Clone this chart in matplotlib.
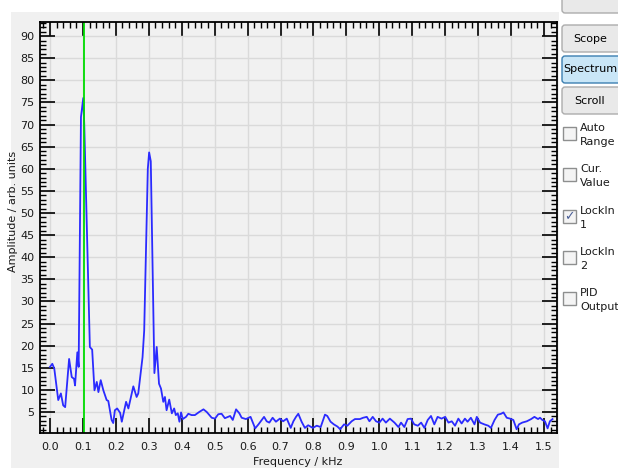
import matplotlib
matplotlib.use('Agg')
import matplotlib.pyplot as plt
from matplotlib.ticker import MultipleLocator, FormatStrFormatter
from matplotlib.patches import Rectangle, FancyBboxPatch

# spectrum (kHz, arb. units)
freq = [0.000, 0.007, 0.013, 0.025, 0.033, 0.040, 0.046, 0.058, 0.066, 0.073,
        0.076, 0.083, 0.087, 0.094, 0.101, 0.104, 0.121, 0.128, 0.135, 0.142,
        0.147, 0.154, 0.162, 0.172, 0.177, 0.187, 0.192, 0.197, 0.204, 0.213,
        0.218, 0.231, 0.238, 0.253, 0.263, 0.268, 0.281, 0.286, 0.297, 0.301,
        0.306, 0.317, 0.324, 0.331, 0.337, 0.344, 0.349, 0.354, 0.362, 0.370,
        0.377, 0.382, 0.388, 0.393, 0.398, 0.403, 0.413, 0.420, 0.430, 0.440,
        0.453, 0.466, 0.476, 0.491, 0.501, 0.511, 0.521, 0.531, 0.547, 0.555,
        0.565, 0.575, 0.582, 0.595, 0.609, 0.623, 0.633, 0.650, 0.658, 0.666,
        0.676, 0.686, 0.698, 0.708, 0.719, 0.731, 0.739, 0.747, 0.754, 0.764,
        0.774, 0.784, 0.798, 0.810, 0.822, 0.835, 0.842, 0.852, 0.862, 0.873,
        0.881, 0.893, 0.903, 0.916, 0.926, 0.941, 0.951, 0.962, 0.970, 0.980,
        0.990, 1.000, 1.010, 1.020, 1.032, 1.046, 1.058, 1.066, 1.076, 1.086,
        1.096, 1.106, 1.117, 1.127, 1.137, 1.147, 1.157, 1.167, 1.177, 1.189,
        1.200, 1.210, 1.220, 1.230, 1.240, 1.250, 1.260, 1.268, 1.278, 1.289,
        1.296, 1.306, 1.319, 1.331, 1.339, 1.350, 1.360, 1.370, 1.377, 1.387,
        1.397, 1.407, 1.417, 1.424, 1.434, 1.448, 1.461, 1.471, 1.482, 1.488,
        1.495, 1.503, 1.511, 1.518, 1.526]
amp = [15.2, 15.9, 14.8, 7.7, 9.2, 6.5, 6.1, 17.0, 12.9, 12.5,
       11.0, 18.5, 15.2, 71.7, 76.0, 70.0, 19.7, 19.1, 9.9, 11.8,
       9.5, 12.2, 9.9, 7.7, 7.5, 3.2, 2.5, 5.4, 5.8, 4.8,
       2.8, 7.3, 5.8, 10.8, 8.4, 9.2, 17.4, 23.4, 60.0, 63.7,
       61.7, 13.8, 19.7, 11.4, 10.3, 7.3, 8.4, 5.4, 7.8, 4.7,
       5.8, 4.3, 4.7, 2.8, 4.9, 3.4, 3.9, 4.6, 4.3, 4.3,
       5.0, 5.6, 5.0, 3.7, 3.5, 4.5, 4.6, 3.6, 4.1, 3.2,
       5.6, 4.7, 3.7, 3.4, 3.9, 1.3, 2.2, 3.9, 2.9, 2.6,
       3.7, 2.8, 3.5, 2.9, 3.5, 1.4, 2.9, 3.9, 4.6, 2.8,
       1.4, 2.0, 1.4, 1.9, 1.6, 4.4, 4.1, 2.8, 2.2, 1.7,
       1.1, 2.2, 1.9, 2.9, 3.4, 3.4, 3.7, 3.9, 2.9, 3.9,
       2.9, 2.6, 3.5, 2.6, 3.5, 2.6, 1.6, 2.6, 1.6, 3.4,
       3.5, 2.2, 1.9, 2.6, 1.4, 3.2, 4.1, 2.2, 3.9, 3.5,
       3.9, 2.6, 2.9, 1.9, 3.5, 2.4, 3.5, 2.8, 3.7, 2.2,
       3.9, 2.6, 2.2, 1.9, 1.4, 3.2, 4.4, 4.6, 4.9, 3.7,
       3.5, 3.2, 1.1, 2.2, 2.6, 2.9, 3.4, 3.9, 3.4, 3.7,
       3.2, 2.9, 1.3, 2.9, 3.4]
cursor_freq = 0.104

buttons = ['Scope', 'Spectrum', 'Scroll']
checkboxes = [('Auto', 'Range'), ('Cur.', 'Value'), ('LockIn', '1'), ('LockIn', '2'), ('PID', 'Output')]
checked = [False, False, True, False, False]

W, H = 618, 468


def fx(x):
    return x / W


def fy(y):
    return 1 - y / H


fig = plt.figure(figsize=(W / 100, H / 100), dpi=100, facecolor='white')

# grey panel behind the plot
fig.patches.append(Rectangle((fx(11), 0), fx(559) - fx(11), fy(12), transform=fig.transFigure,
                             facecolor='#f0f0f0', edgecolor='none', zorder=-5))

ax = fig.add_axes([fx(40), fy(433), fx(557) - fx(40), fy(21.5) - fy(433)])
ax.set_zorder(2)
ax.set_facecolor('#f1f1f1')
ax.plot(freq, amp, color='#2b2bff', lw=1.3)
ax.axvline(cursor_freq, color='#00dd00', lw=1.3)

ax.set_xlim(-0.0304, 1.5396)
ax.set_ylim(0.25, 93.3)
ax.xaxis.set_major_locator(MultipleLocator(0.1))
ax.xaxis.set_minor_locator(MultipleLocator(0.02))
ax.xaxis.set_major_formatter(FormatStrFormatter('%.1f'))
ax.yaxis.set_major_locator(MultipleLocator(5))
ax.yaxis.set_minor_locator(MultipleLocator(1))

ax.set_axisbelow(True)
ax.grid(True, which='major', color='#dadada', lw=1.0)
ax.tick_params(which='both', direction='in', top=True, right=True, colors='black',
               labelcolor='#1a1a1a', labelsize=8)
ax.tick_params(which='major', length=10.5, width=1.2)
ax.tick_params(which='minor', length=4, width=1.0)
ax.tick_params(axis='x', pad=6.5)
ax.tick_params(axis='y', pad=4)
for s in ax.spines.values():
    s.set_linewidth(1.3)

fig.text(fx(13), fy(211), 'Amplitude / arb. units', rotation=90, ha='center', va='center',
         fontsize=8, color='#1a1a1a')
fig.text(fx(298), fy(462), 'Frequency / kHz', ha='center', va='center', fontsize=8, color='#1a1a1a')

# side panel: buttons
def button(y0, y1, label, active=False):
    fc = '#c9e6f7' if active else '#e9e9e9'
    ec = '#3c7fb1' if active else '#acacac'
    fig.patches.append(FancyBboxPatch((fx(562), fy(y1)), fx(640) - fx(562), fy(y0) - fy(y1),
                                      boxstyle='round,pad=0,rounding_size=0.005',
                                      mutation_aspect=W / H, transform=fig.transFigure,
                                      facecolor=fc, edgecolor=ec, lw=1.0))
    if label:
        fig.text(fx(590), fy((y0 + y1) / 2), label, ha='center', va='center', fontsize=8,
                 color='black')


button(-6, 13, '')
for i, b in enumerate(buttons):
    y0 = 25 + i * 31
    button(y0, y0 + 27, b, active=(b == 'Spectrum'))

# side panel: check boxes
for i, (l1, l2) in enumerate(checkboxes):
    yb = 127 + i * 41.3
    fig.patches.append(Rectangle((fx(563), fy(yb + 13)), fx(576) - fx(563), fy(yb) - fy(yb + 13),
                                 transform=fig.transFigure, facecolor='#f4f4f4',
                                 edgecolor='#8e8f8f', lw=1.0))
    if checked[i]:
        fig.text(fx(569.5), fy(yb + 7), '\u2713', ha='center', va='center', fontsize=9,
                 color='#4a5f97')
    fig.text(fx(580), fy(yb + 1), l1, ha='left', va='center', fontsize=8, color='#1a1a1a')
    fig.text(fx(580), fy(yb + 15), l2, ha='left', va='center', fontsize=8, color='#1a1a1a')

fig.savefig('out.png', dpi=100, facecolor='white')
